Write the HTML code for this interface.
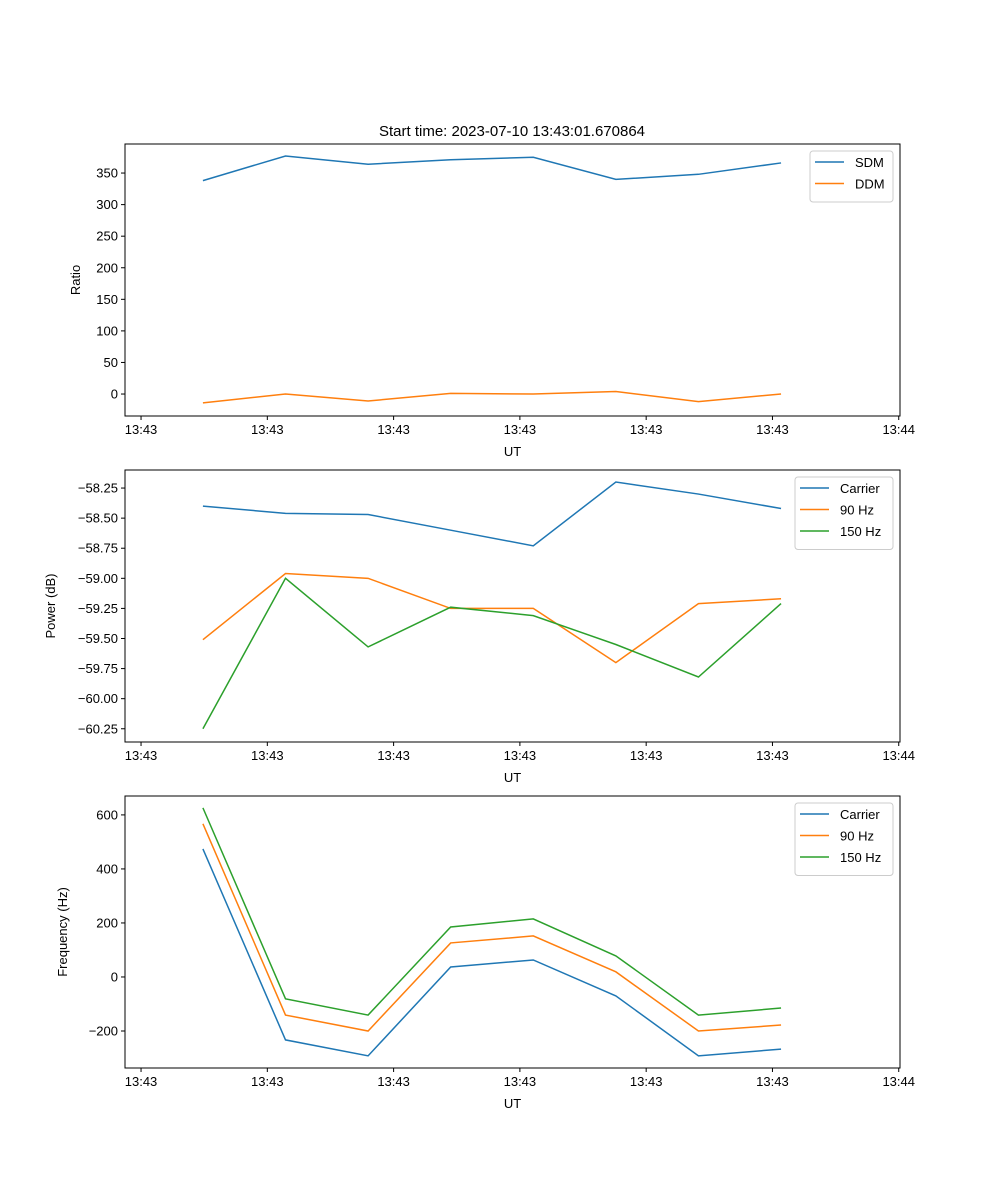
<!DOCTYPE html>
<html><head><meta charset="utf-8">
<style>
body{margin:0;background:#fff;}
svg{display:block;font-family:"Liberation Sans","DejaVu Sans",sans-serif;}
</style></head>
<body>
<svg id="chart" width="1000" height="1200" viewBox="0 0 1000 1200" xmlns="http://www.w3.org/2000/svg">
<rect width="1000" height="1200" fill="#fff"/>
<text x="512" y="136" font-size="15" text-anchor="middle">Start time: 2023-07-10 13:43:01.670864</text>
</svg>
<script>
const times = [0.49,1.144,1.798,2.452,3.106,3.76,4.414,5.068];
const xTickValues = [0,1,2,3,4,5,6];
const xTickLabels = ["13:43","13:43","13:43","13:43","13:43","13:43","13:44"];
const sdm = [338,377,364,371,375,340,348,366];
const ddm = [-14,0,-11,1,0,4,-12,0];
const ratioTicks = [0,50,100,150,200,250,300,350];
const powCarrier = [-58.40,-58.46,-58.47,-58.60,-58.73,-58.20,-58.30,-58.42];
const pow90 = [-59.51,-58.96,-59.00,-59.25,-59.25,-59.70,-59.21,-59.17];
const pow150 = [-60.25,-59.00,-59.57,-59.24,-59.31,-59.55,-59.82,-59.21];
const powTicks = [-60.25,-60.00,-59.75,-59.50,-59.25,-59.00,-58.75,-58.50,-58.25];
const freqCarrier = [474,-233,-292,37,63,-70,-292,-267];
const freq90 = [567,-141,-200,126,152,19,-200,-178];
const freq150 = [626,-81,-141,185,215,78,-141,-115];
const freqTicks = [-200,0,200,400,600];

const NS="http://www.w3.org/2000/svg";
const svg=document.getElementById('chart');
function mk(tag,attrs,parent){const e=document.createElementNS(NS,tag);for(const k in attrs)e.setAttribute(k,attrs[k]);(parent||svg).appendChild(e);return e;}
const X0=125,X1=900,T0=-0.127,T1=6.01;
function xs(t){return X0+(t-T0)/(T1-T0)*(X1-X0);}

function panel(name,top,bottom,ymin,ymax,yticks,fmt,ylabel,series,legend){
  const g=mk('g',{});
  
  
  const ys=v=>bottom-(v-ymin)/(ymax-ymin)*(bottom-top);
  series.forEach(s=>{
    const p=mk('polyline',{points:s.vals.map((v,i)=>xs(times[i]).toFixed(2)+','+ys(v).toFixed(2)).join(' '),fill:'none',stroke:s.color,'stroke-width':1.5},g);
    
    
  });
  const fr=mk('rect',{x:X0,y:top,width:X1-X0,height:bottom-top,fill:'none',stroke:'#000','stroke-width':1},g);
  
  
  xTickValues.forEach((t,i)=>{
    const x=xs(t);
    mk('line',{x1:x,x2:x,y1:bottom,y2:bottom+4,stroke:'#000'},g);
    const tx=mk('text',{x:x,y:bottom+18,'font-size':13,'text-anchor':'middle'},g);
    tx.textContent=xTickLabels[i];
    
    
  });
  const xl=mk('text',{x:(X0+X1)/2,y:bottom+40,'font-size':13,'text-anchor':'middle'},g);
  xl.textContent='UT';
  
  
  yticks.forEach(v=>{
    const y=ys(v);
    mk('line',{x1:X0-4,x2:X0,y1:y,y2:y,stroke:'#000'},g);
    const tx=mk('text',{x:X0-7,y:y+4.5,'font-size':13,'text-anchor':'end'},g);
    tx.textContent=fmt(v);
    
    
  });
  const yl=mk('text',{x:0,y:0,'font-size':13,'text-anchor':'middle',transform:`translate(${ylabel.x},${(top+bottom)/2}) rotate(-90)`},g);
  yl.textContent=ylabel.text;
  
  
  // legend
  const lg=mk('g',{},g);
  
  
  mk('rect',{x:legend.x,y:top+7,width:legend.w,height:8+series.length*21.5,rx:3,fill:'#fff',stroke:'#ccc','fill-opacity':0.8},lg);
  series.forEach((s,i)=>{
    const y=top+18+i*21.5;
    mk('line',{x1:legend.x+5,x2:legend.x+34,y1:y,y2:y,stroke:s.color,'stroke-width':1.5},lg);
    const t=mk('text',{x:legend.x+45,y:y+5,'font-size':13},lg);
    t.textContent=s.label;
    
    
  });
}
const minus=s=>s.replace('-','\u2212');
panel('ratio',144,416,-34.8,396,ratioTicks,v=>minus(String(v)),{x:80,text:'Ratio'},
 [{key:'sdm',label:'SDM',vals:sdm,color:'#1f77b4'},{key:'ddm',label:'DDM',vals:ddm,color:'#ff7f0e'}],{x:810,w:83});
panel('power',470,742,-60.36,-58.10,powTicks,v=>minus(v.toFixed(2)),{x:55,text:'Power (dB)'},
 [{key:'carrier',label:'Carrier',vals:powCarrier,color:'#1f77b4'},{key:'90hz',label:'90 Hz',vals:pow90,color:'#ff7f0e'},{key:'150hz',label:'150 Hz',vals:pow150,color:'#2ca02c'}],{x:795,w:98});
panel('frequency',796,1068,-337,670,freqTicks,v=>minus(String(v)),{x:67,text:'Frequency (Hz)'},
 [{key:'carrier',label:'Carrier',vals:freqCarrier,color:'#1f77b4'},{key:'90hz',label:'90 Hz',vals:freq90,color:'#ff7f0e'},{key:'150hz',label:'150 Hz',vals:freq150,color:'#2ca02c'}],{x:795,w:98});
</script>
</body></html>
